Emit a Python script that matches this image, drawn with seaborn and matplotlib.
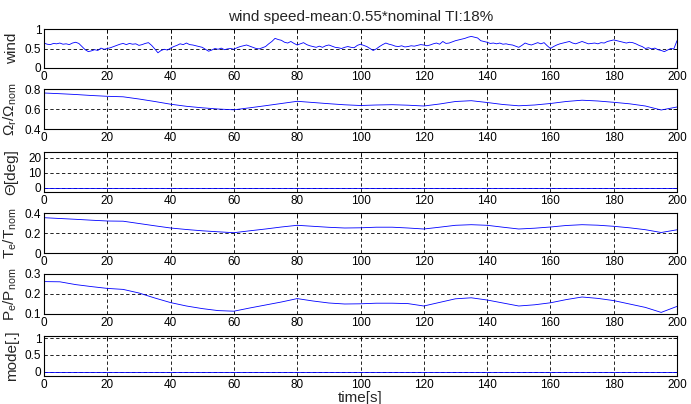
import numpy as np
import pandas as pd
import seaborn as sns
import matplotlib.pyplot as plt

sns.set_theme(style="white")
plt.rcParams['font.family'] = ['Liberation Sans', 'DejaVu Sans']
plt.rcParams['mathtext.fontset'] = 'custom'
plt.rcParams['mathtext.rm'] = 'Liberation Sans'
plt.rcParams['mathtext.it'] = 'Liberation Sans'

# wind speed, 1 s steps, 0..200 s (normalised)
t_wind = list(range(0, 201))
wind = [0.64, 0.61, 0.60, 0.63, 0.62, 0.64, 0.61, 0.62, 0.60, 0.64,
        0.66, 0.63, 0.55, 0.47, 0.42, 0.44, 0.47, 0.45, 0.51, 0.48,
        0.50, 0.52, 0.55, 0.58, 0.61, 0.63, 0.60, 0.63, 0.61, 0.62,
        0.58, 0.60, 0.63, 0.65, 0.58, 0.49, 0.39, 0.45, 0.48, 0.46,
        0.51, 0.55, 0.58, 0.62, 0.60, 0.64, 0.60, 0.59, 0.57, 0.55,
        0.53, 0.48, 0.43, 0.46, 0.50, 0.48, 0.51, 0.47, 0.49, 0.50,
        0.48, 0.52, 0.55, 0.57, 0.59, 0.56, 0.53, 0.50, 0.49, 0.52,
        0.55, 0.62, 0.68, 0.76, 0.73, 0.71, 0.66, 0.64, 0.68, 0.63,
        0.59, 0.62, 0.65, 0.60, 0.57, 0.55, 0.53, 0.56, 0.53, 0.57,
        0.59, 0.56, 0.53, 0.52, 0.50, 0.53, 0.55, 0.53, 0.52, 0.58,
        0.61, 0.58, 0.55, 0.50, 0.45, 0.49, 0.55, 0.60, 0.64, 0.61,
        0.59, 0.56, 0.55, 0.57, 0.54, 0.55, 0.57, 0.56, 0.58, 0.60,
        0.59, 0.57, 0.59, 0.62, 0.64, 0.61, 0.68, 0.63, 0.64, 0.67,
        0.70, 0.72, 0.74, 0.76, 0.79, 0.81, 0.79, 0.77, 0.70, 0.68,
        0.66, 0.63, 0.64, 0.62, 0.64, 0.61, 0.62, 0.60, 0.59, 0.56,
        0.53, 0.58, 0.64, 0.61, 0.59, 0.62, 0.65, 0.62, 0.65, 0.57,
        0.50, 0.55, 0.59, 0.62, 0.64, 0.66, 0.68, 0.64, 0.62, 0.65,
        0.68, 0.65, 0.62, 0.63, 0.64, 0.62, 0.65, 0.64, 0.68, 0.70,
        0.72, 0.70, 0.68, 0.66, 0.64, 0.66, 0.65, 0.62, 0.58, 0.55,
        0.50, 0.52, 0.49, 0.51, 0.47, 0.45, 0.42, 0.46, 0.50, 0.49,
        0.70]

# slow signals, 5 s steps
t_slow = list(range(0, 201, 5))
omega = [0.760, 0.753, 0.745, 0.735, 0.727, 0.722, 0.700, 0.675, 0.648, 0.627,
         0.612, 0.600, 0.592, 0.612, 0.633, 0.655, 0.677, 0.665, 0.653, 0.642,
         0.635, 0.640, 0.643, 0.638, 0.630, 0.650, 0.675, 0.683, 0.665, 0.645,
         0.632, 0.640, 0.655, 0.675, 0.688, 0.680, 0.667, 0.652, 0.630, 0.590,
         0.620]
pitch = [0.3] * 41
torque = [0.353, 0.345, 0.337, 0.328, 0.320, 0.318, 0.295, 0.272, 0.250, 0.235,
          0.222, 0.212, 0.203, 0.222, 0.240, 0.260, 0.277, 0.267, 0.257, 0.250,
          0.252, 0.258, 0.258, 0.250, 0.240, 0.258, 0.277, 0.283, 0.277, 0.258,
          0.240, 0.248, 0.260, 0.275, 0.283, 0.278, 0.267, 0.252, 0.233, 0.205,
          0.232]
power = [0.262, 0.261, 0.247, 0.237, 0.228, 0.223, 0.205, 0.180, 0.157, 0.140,
         0.127, 0.117, 0.114, 0.130, 0.145, 0.160, 0.177, 0.165, 0.155, 0.150,
         0.151, 0.154, 0.154, 0.152, 0.140, 0.158, 0.176, 0.181, 0.170, 0.155,
         0.140, 0.146, 0.156, 0.172, 0.185, 0.178, 0.167, 0.150, 0.133, 0.108,
         0.138]
mode = [0.0] * 41

xticks = list(range(0, 201, 20))
labels = ["wind", r"$\mathregular{\Omega_r/\Omega_{nom}}$", "Θ[deg]",
          r"$\mathregular{T_e/T_{nom}}$", r"$\mathregular{P_e/P_{nom}}$", "mode[.]"]
yticks = [[0, 0.5, 1], [0.4, 0.6, 0.8], [0, 10, 20], [0, 0.2, 0.4],
          [0.1, 0.2, 0.3], [0, 0.5, 1]]
ylims = [(0, 1), (0.4, 0.8), (-2.7, 24), (0, 0.4), (0.1, 0.3), (-0.12, 1.06)]
series = [(t_wind, wind), (t_slow, omega), (t_slow, pitch),
          (t_slow, torque), (t_slow, power), (t_slow, mode)]

W, H = 691, 404
fig = plt.figure(figsize=(W / 100, H / 100), dpi=100)
boxes = [(29, 68), (89, 129), (152, 192), (213, 253), (274, 314), (336, 376)]
left, right = 44, 677

axes = []
for i, (top, bot) in enumerate(boxes):
    ax = fig.add_axes([left / W, 1 - bot / H, (right - left) / W, (bot - top) / H])
    x, y = series[i]
    df = pd.DataFrame({"t": x, "v": y})
    sns.lineplot(data=df, x="t", y="v", ax=ax, color="#0000ff", linewidth=0.6)
    ax.set_xlim(0, 200)
    ax.set_ylim(*ylims[i])
    ax.set_xticks(xticks)
    ax.set_yticks(yticks[i])
    ax.set_yticklabels([f"{v:g}" for v in yticks[i]])
    ax.grid(True, color="black", linestyle=(0, (4, 3)), linewidth=0.6)
    ax.tick_params(direction="in", length=3, width=0.6, top=True, right=True,
                   labelsize=8.5, pad=2, colors="black")
    for s in ax.spines.values():
        s.set_color("black")
        s.set_linewidth(0.8)
    ax.set_xlabel("")
    ax.set_ylabel(labels[i], fontsize=11)
    ax.yaxis.set_label_coords(-0.04, 0.5)
    axes.append(ax)

axes[0].set_title("wind speed-mean:0.55*nominal TI:18%", fontsize=11, pad=6)
axes[-1].set_xlabel("time[s]", fontsize=11, labelpad=0.5)

fig.savefig("out.png", dpi=100)
